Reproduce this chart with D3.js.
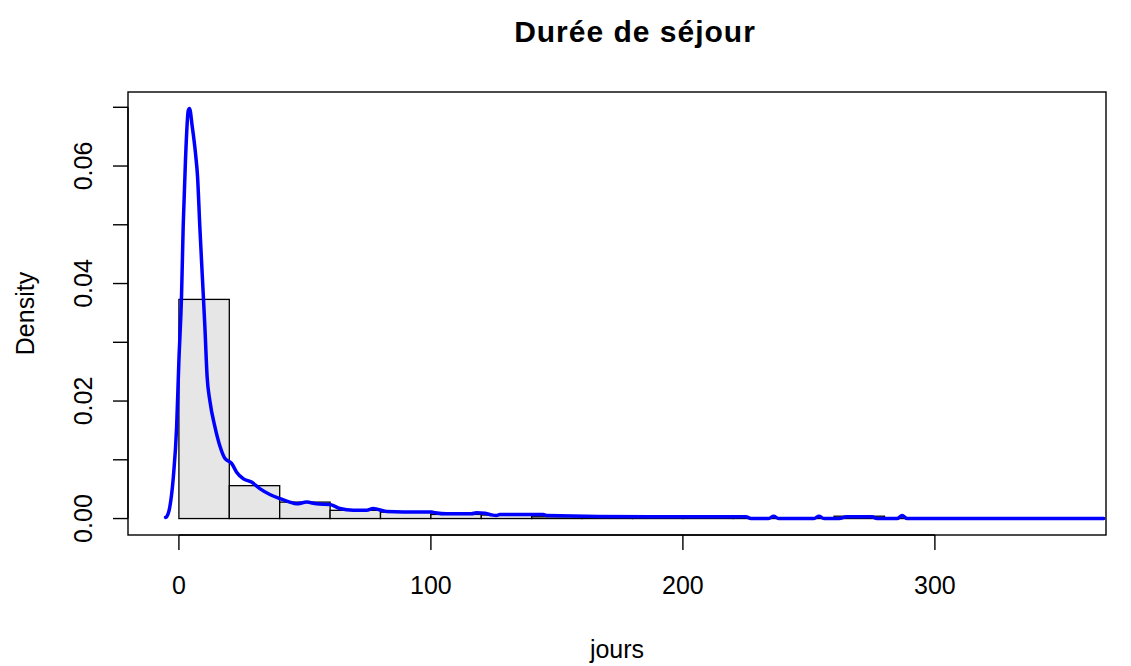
<!DOCTYPE html>
<html>
<head>
<meta charset="utf-8">
<script src="https://cdn.jsdelivr.net/npm/d3@7"></script>
<style>
  body { margin: 0; background: #fff; }
  svg { display: block; font-family: "Liberation Sans", Arial, Helvetica, sans-serif; }
</style>
</head>
<body>
<div id="chart"></div>
<script>
// Histogram bins (20-day wide), density heights
const binStarts = [0, 20, 40, 60, 80, 100, 120, 140, 160, 180, 200, 220, 240, 260, 280, 300, 320, 340];
const binDensity = [0.0373, 0.0056, 0.0028, 0.0014, 0.0011, 0.0007, 0.0006, 0.0003, 0.0002, 0.0002,
  0.0002, 0.0001, 0.0001, 0.0004, 0.0001, 0, 0, 0];
const binWidth = 20;

// Kernel density curve (jours, density)
const densX = [-5.3, -4.9, -3.6, -2.2, -0.9, 0, 1.05, 1.7, 2.6, 3.7, 4.2, 5.3, 6.6, 7.4, 8.3, 9.3, 10.3,
  11.2, 12.3, 14.3, 16.3, 18.3, 20.9, 22.9, 25.5, 28.8, 32.1, 36.1, 40.1, 44, 46.7, 50.7, 54.6, 59.9,
  63.9, 69.2, 74.5, 77.1, 82.4, 95.6, 100.3, 101.6, 106.2, 116.1, 118.1, 121.4, 123.4, 126, 127.4,
  144.6, 146, 187, 225, 227, 234, 236, 238, 252, 254, 256, 262, 265, 275, 277, 285, 287, 289, 367];
const densY = [0.0002, 0.0003, 0.002, 0.0071, 0.0156, 0.0269, 0.038, 0.0497, 0.0609, 0.0694, 0.0698,
  0.0667, 0.0621, 0.0582, 0.0497, 0.0412, 0.0327, 0.0241, 0.020, 0.0156, 0.0123, 0.0102, 0.0094,
  0.0079, 0.0068, 0.0062, 0.0051, 0.0041, 0.0034, 0.0028, 0.0025, 0.0028, 0.0025, 0.0024, 0.0017,
  0.0014, 0.0014, 0.0017, 0.0012, 0.0011, 0.0011, 0.0010, 0.0008, 0.0008, 0.0010, 0.0009, 0.0007,
  0.0005, 0.0007, 0.0007, 0.0005, 0.0003, 0.0003, 0, 0, 0.0004, 0, 0, 0.0004, 0, 0, 0.0003, 0.0003,
  0, 0, 0.0005, 0, 0];

const xTicks = [0, 100, 200, 300];
const yTicks = [0, 0.01, 0.02, 0.03, 0.04, 0.05, 0.06, 0.07];
const yLabels = [0, 0.02, 0.04, 0.06];

const width = 1131, height = 666;
const box = { left: 128, right: 1106, top: 92, bottom: 535 };

const svg = d3.select("#chart").append("svg")
  .attr("width", width)
  .attr("height", height);

const x = d3.scaleLinear().domain([-20.2, 367.9]).range([box.left, box.right]);
const y = d3.scaleLinear().domain([-0.0028, 0.0726]).range([box.bottom, box.top]);

svg.append("clipPath").attr("id", "plot-clip")
  .append("rect")
    .attr("x", box.left).attr("y", box.top)
    .attr("width", box.right - box.left).attr("height", box.bottom - box.top);

const plot = svg.append("g").attr("clip-path", "url(#plot-clip)");

// bars
plot.selectAll(".bar")
  .data(binStarts.map((s, i) => ({ start: s, d: binDensity[i] })))
  .join("rect")
    .attr("class", "bar")
    .attr("x", d => x(d.start))
    .attr("width", d => x(d.start + binWidth) - x(d.start))
    .attr("y", d => y(d.d))
    .attr("height", d => y(0) - y(d.d))
    .attr("fill", "#e6e6e6")
    .attr("stroke", "#000")
    .attr("stroke-width", 1.3);

// density line
const line = d3.line()
  .x(d => x(d[0]))
  .y(d => y(d[1]))
  .curve(d3.curveMonotoneX);

plot.append("path")
  .datum(densX.map((v, i) => [v, densY[i]]))
  .attr("d", line)
  .attr("fill", "none")
  .attr("stroke", "#0000ff")
  .attr("stroke-width", 3.5)
  .attr("stroke-linejoin", "round")
  .attr("stroke-linecap", "round");

// box
svg.append("rect")
  .attr("x", box.left).attr("y", box.top)
  .attr("width", box.right - box.left).attr("height", box.bottom - box.top)
  .attr("fill", "none")
  .attr("stroke", "#000")
  .attr("stroke-width", 1.4);

// x axis
const xAxis = svg.append("g");
xAxis.append("line")
  .attr("x1", x(xTicks[0])).attr("x2", x(xTicks[xTicks.length - 1]))
  .attr("y1", box.bottom).attr("y2", box.bottom)
  .attr("stroke", "#000").attr("stroke-width", 1.4);
xAxis.selectAll(".xt")
  .data(xTicks)
  .join("line")
    .attr("x1", d => x(d)).attr("x2", d => x(d))
    .attr("y1", box.bottom).attr("y2", box.bottom + 15)
    .attr("stroke", "#000").attr("stroke-width", 1.4);
xAxis.selectAll(".xl")
  .data(xTicks)
  .join("text")
    .attr("x", d => x(d))
    .attr("y", 594)
    .attr("text-anchor", "middle")
    .style("font-size", "25px")
    .text(d => d);

// y axis
const yAxis = svg.append("g");
yAxis.append("line")
  .attr("x1", box.left).attr("x2", box.left)
  .attr("y1", y(yTicks[0])).attr("y2", y(yTicks[yTicks.length - 1]))
  .attr("stroke", "#000").attr("stroke-width", 1.4);
yAxis.selectAll(".yt")
  .data(yTicks)
  .join("line")
    .attr("x1", box.left - 15).attr("x2", box.left)
    .attr("y1", d => y(d)).attr("y2", d => y(d))
    .attr("stroke", "#000").attr("stroke-width", 1.4);
yAxis.selectAll(".yl")
  .data(yLabels)
  .join("text")
    .attr("transform", d => `translate(92,${y(d)}) rotate(-90)`)
    .attr("text-anchor", "middle")
    .style("font-size", "25px")
    .text(d => d.toFixed(2));

// titles
svg.append("text")
  .attr("x", 635)
  .attr("y", 42)
  .attr("text-anchor", "middle")
  .style("font-size", "30px")
  .style("font-weight", "bold")
  .style("letter-spacing", "1px")
  .text("Durée de séjour");

svg.append("text")
  .attr("x", (box.left + box.right) / 2)
  .attr("y", 658)
  .attr("text-anchor", "middle")
  .style("font-size", "25px")
  .text("jours");

svg.append("text")
  .attr("transform", `translate(34,${(box.top + box.bottom) / 2}) rotate(-90)`)
  .attr("text-anchor", "middle")
  .style("font-size", "25px")
  .text("Density");
</script>
</body>
</html>
